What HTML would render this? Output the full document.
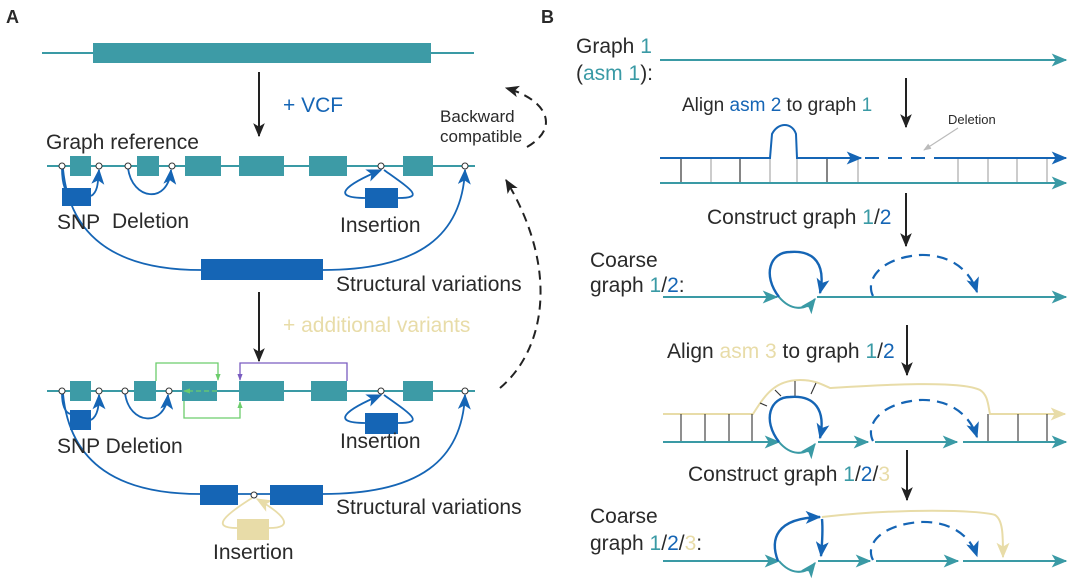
<!DOCTYPE html>
<html><head><meta charset="utf-8"><style>
html,body{margin:0;padding:0;background:#fff;}
svg{display:block;font-family:"Liberation Sans",Arial,sans-serif;}
</style></head><body>
<svg width="1078" height="579" viewBox="0 0 1078 579" xmlns="http://www.w3.org/2000/svg">
<defs>
<marker id="mt" viewBox="0 0 12 10" refX="11" refY="5" markerWidth="17" markerHeight="13" markerUnits="userSpaceOnUse" orient="auto"><path d="M0,0 L12,5 L0,10 L3,5 Z" fill="#3a9aa5"/></marker>
<marker id="mb" viewBox="0 0 12 10" refX="11" refY="5" markerWidth="16" markerHeight="13" markerUnits="userSpaceOnUse" orient="auto"><path d="M0,0 L12,5 L0,10 L3,5 Z" fill="#1565b5"/></marker>
<marker id="my" viewBox="0 0 12 10" refX="11" refY="5" markerWidth="17" markerHeight="13" markerUnits="userSpaceOnUse" orient="auto"><path d="M0,0 L12,5 L0,10 L3,5 Z" fill="#e8dca8"/></marker>
<marker id="mk" viewBox="0 0 12 10" refX="11" refY="5" markerWidth="14" markerHeight="12" markerUnits="userSpaceOnUse" orient="auto"><path d="M0,0 L12,5 L0,10 L3,5 Z" fill="#222"/></marker>
<marker id="mg" viewBox="0 0 8 6" refX="7" refY="3" markerWidth="7" markerHeight="6" markerUnits="userSpaceOnUse" orient="auto"><path d="M0,0 L8,3 L0,6 Z" fill="#6ccd6c"/></marker>
<marker id="mp" viewBox="0 0 8 6" refX="7" refY="3" markerWidth="7" markerHeight="6" markerUnits="userSpaceOnUse" orient="auto"><path d="M0,0 L8,3 L0,6 Z" fill="#7a5cc0"/></marker>
<marker id="ms" viewBox="0 0 8 6" refX="7" refY="3" markerWidth="8" markerHeight="7" markerUnits="userSpaceOnUse" orient="auto"><path d="M0,0 L8,3 L0,6 Z" fill="#bbb"/></marker>
</defs>

<g fill="#2a2a2a">
<text x="6" y="23" font-weight="bold" font-size="18">A</text>
<text x="541" y="23" font-weight="bold" font-size="18">B</text>
</g>

<!-- Panel A top -->
<line x1="42" y1="53" x2="474" y2="53" stroke="#3a9aa5" stroke-width="2"/>
<rect x="93" y="43" width="338" height="20" fill="#3d9ba6"/>
<line x1="259" y1="72" x2="259" y2="136" stroke="#222" stroke-width="2" marker-end="url(#mk)"/>
<text x="283" y="112" font-size="21" fill="#1565b5">+ VCF</text>
<text x="46" y="149" font-size="21" fill="#2a2a2a">Graph reference</text>
<text x="440" y="122" font-size="17" fill="#2a2a2a">Backward</text>
<text x="440" y="142" font-size="17" fill="#2a2a2a">compatible</text>
<path d="M527,147 C560,128 548,100 506,88" fill="none" stroke="#222" stroke-width="2" stroke-dasharray="9,6" marker-end="url(#mk)"/>

<!-- Graph 1 -->
<line x1="47" y1="166" x2="475" y2="166" stroke="#3a9aa5" stroke-width="2"/>
<g fill="#3d9ba6">
<rect x="70" y="156" width="21" height="20"/><rect x="137" y="156" width="22" height="20"/>
<rect x="185" y="156" width="36" height="20"/><rect x="239" y="156" width="45" height="20"/>
<rect x="309" y="156" width="38" height="20"/><rect x="403" y="156" width="30" height="20"/>
</g>
<g fill="none" stroke="#1565b5" stroke-width="1.8">
<path d="M91,196 C98,192 98,182 99,170" marker-end="url(#mb)"/>
<path d="M62,168 C62,185 66,195 72,195"/>
<path d="M128,168 C132,200 168,205 171,170" marker-end="url(#mb)"/>
<path d="M365,198 C330,198 345,185 381,170" marker-end="url(#mb)"/>
<path d="M398,198 C425,198 412,190 384,170"/>
<path d="M63,169 C70,240 120,270 201,270"/>
<path d="M323,270 C420,270 462,235 465,170" marker-end="url(#mb)"/>
</g>
<rect x="62" y="188" width="29" height="18" fill="#1565b5"/>
<rect x="365" y="188" width="33" height="20" fill="#1565b5"/>
<rect x="201" y="259" width="122" height="21" fill="#1565b5"/>
<g fill="#fff" stroke="#333" stroke-width="1">
<circle cx="62" cy="166" r="3"/><circle cx="99" cy="166" r="3"/><circle cx="128" cy="166" r="3"/>
<circle cx="172" cy="166" r="3"/><circle cx="381" cy="166" r="3"/><circle cx="465" cy="166" r="3"/>
</g>
<g font-size="21" fill="#2a2a2a">
<text x="57" y="229">SNP</text><text x="112" y="228">Deletion</text>
<text x="340" y="232">Insertion</text><text x="336" y="291">Structural variations</text>
</g>

<line x1="259" y1="292" x2="259" y2="361" stroke="#222" stroke-width="2" marker-end="url(#mk)"/>
<text x="283" y="332" font-size="21" fill="#e8dca8">+ additional variants</text>

<!-- Graph 2 -->
<line x1="47" y1="391" x2="475" y2="391" stroke="#3a9aa5" stroke-width="2"/>
<g fill="#3d9ba6">
<rect x="70" y="381" width="21" height="20"/><rect x="134" y="381" width="22" height="20"/>
<rect x="182" y="381" width="35" height="20"/><rect x="239" y="381" width="45" height="20"/>
<rect x="311" y="381" width="36" height="20"/><rect x="403" y="381" width="30" height="20"/>
</g>
<g fill="none" stroke-width="1.3">
<path d="M156,381 V363 H218 V380" stroke="#6ccd6c" marker-end="url(#mg)"/>
<path d="M184,401 V418 H240 V402" stroke="#6ccd6c" marker-end="url(#mg)"/>
<path d="M217,391 H184" stroke="#6ccd6c" stroke-dasharray="5,3" marker-end="url(#mg)"/>
<path d="M347,381 V363 H240 V380" stroke="#7a5cc0" marker-end="url(#mp)"/>
</g>
<g fill="none" stroke="#1565b5" stroke-width="1.8">
<path d="M91,420 C98,416 99,405 99,395" marker-end="url(#mb)"/>
<path d="M62,393 C62,405 65,412 70,414"/>
<path d="M125,393 C129,425 165,428 168,395" marker-end="url(#mb)"/>
<path d="M365,423 C330,423 345,410 381,395" marker-end="url(#mb)"/>
<path d="M398,423 C425,423 412,415 384,395"/>
<path d="M63,394 C70,465 120,494 200,494"/>
<path d="M323,494 C420,494 462,460 465,395" marker-end="url(#mb)"/>
<line x1="238" y1="494" x2="270" y2="494"/>
</g>
<g fill="none" stroke="#e8dca8" stroke-width="1.8">
<path d="M237,528 C210,528 225,515 252,498"/>
<path d="M269,528 C295,528 285,515 257,499" marker-end="url(#my)"/>
</g>
<rect x="70" y="410" width="21" height="20" fill="#1565b5"/>
<rect x="365" y="413" width="33" height="21" fill="#1565b5"/>
<rect x="200" y="485" width="38" height="20" fill="#1565b5"/>
<rect x="270" y="485" width="53" height="20" fill="#1565b5"/>
<rect x="237" y="519" width="32" height="21" fill="#e8dca8"/>
<g fill="#fff" stroke="#333" stroke-width="1">
<circle cx="62" cy="391" r="3"/><circle cx="99" cy="391" r="3"/><circle cx="125" cy="391" r="3"/>
<circle cx="169" cy="391" r="3"/><circle cx="381" cy="391" r="3"/><circle cx="465" cy="391" r="3"/>
<circle cx="254" cy="495" r="3"/>
</g>
<g font-size="21" fill="#2a2a2a">
<text x="57" y="453">SNP Deletion</text>
<text x="340" y="448">Insertion</text><text x="336" y="514">Structural variations</text>
<text x="213" y="559">Insertion</text>
</g>
<path d="M500,388 C545,350 560,270 506,180" fill="none" stroke="#222" stroke-width="2" stroke-dasharray="9,6" marker-end="url(#mk)"/>

<!-- Panel B -->
<g font-size="21" fill="#2a2a2a">
<text x="576" y="53">Graph <tspan fill="#3a9aa5">1</tspan></text>
<text x="576" y="80">(<tspan fill="#3a9aa5">asm 1</tspan>):</text>
<text x="682" y="111" font-size="19">Align <tspan fill="#1565b5">asm 2</tspan> to graph <tspan fill="#3a9aa5">1</tspan></text>
<text x="707" y="224">Construct graph <tspan fill="#3a9aa5">1</tspan>/<tspan fill="#1565b5">2</tspan></text>
<text x="590" y="267">Coarse</text>
<text x="590" y="292">graph <tspan fill="#3a9aa5">1</tspan>/<tspan fill="#1565b5">2</tspan>:</text>
<text x="667" y="358">Align <tspan fill="#e8dca8">asm 3</tspan> to graph <tspan fill="#3a9aa5">1</tspan>/<tspan fill="#1565b5">2</tspan></text>
<text x="688" y="481">Construct  graph <tspan fill="#3a9aa5">1</tspan>/<tspan fill="#1565b5">2</tspan>/<tspan fill="#e8dca8">3</tspan></text>
<text x="590" y="523">Coarse</text>
<text x="590" y="550">graph <tspan fill="#3a9aa5">1</tspan>/<tspan fill="#1565b5">2</tspan>/<tspan fill="#e8dca8">3</tspan>:</text>
</g>
<line x1="660" y1="60" x2="1066" y2="60" stroke="#3a9aa5" stroke-width="2" marker-end="url(#mt)"/>
<g stroke="#222" stroke-width="2">
<line x1="906" y1="78" x2="906" y2="127" marker-end="url(#mk)"/>
<line x1="906" y1="193" x2="906" y2="246" marker-end="url(#mk)"/>
<line x1="907" y1="325" x2="907" y2="375" marker-end="url(#mk)"/>
<line x1="907" y1="450" x2="907" y2="500" marker-end="url(#mk)"/>
</g>

<!-- align 2 -->
<g stroke-width="1.2">
<g stroke="#333"><line x1="681" y1="158" x2="681" y2="183"/><line x1="740" y1="158" x2="740" y2="183"/><line x1="827" y1="158" x2="827" y2="183"/></g>
<g stroke="#aaa"><line x1="711" y1="158" x2="711" y2="183"/><line x1="770" y1="158" x2="770" y2="183"/><line x1="797" y1="158" x2="797" y2="183"/><line x1="858" y1="158" x2="858" y2="183"/><line x1="958" y1="158" x2="958" y2="183"/><line x1="988" y1="158" x2="988" y2="183"/><line x1="1017" y1="158" x2="1017" y2="183"/><line x1="1047" y1="158" x2="1047" y2="183"/></g>
</g>
<path d="M660,158 H770 L772,134 C778,122 792,122 796,134 L797,158 H861" fill="none" stroke="#1565b5" stroke-width="2" marker-end="url(#mb)"/>
<line x1="865" y1="158" x2="945" y2="158" stroke="#1565b5" stroke-width="2" stroke-dasharray="14,9"/>
<line x1="945" y1="158" x2="1066" y2="158" stroke="#1565b5" stroke-width="2" marker-end="url(#mb)"/>
<line x1="660" y1="183" x2="1066" y2="183" stroke="#3a9aa5" stroke-width="2" marker-end="url(#mt)"/>
<text x="948" y="124" font-size="13" fill="#2a2a2a">Deletion</text>
<line x1="958" y1="128" x2="924" y2="150" stroke="#bbb" stroke-width="1.2" marker-end="url(#ms)"/>

<!-- coarse 1/2 -->
<line x1="663" y1="297" x2="777" y2="297" stroke="#3a9aa5" stroke-width="2" marker-end="url(#mt)"/>
<line x1="817" y1="297" x2="1066" y2="297" stroke="#3a9aa5" stroke-width="2" marker-end="url(#mt)"/>
<path d="M779,297 C790,310 805,312 815,299" fill="none" stroke="#3a9aa5" stroke-width="2" marker-end="url(#mt)"/>
<path d="M779,297 C762,275 770,252 790,252 C815,250 826,265 820,293" fill="none" stroke="#1565b5" stroke-width="2.4" marker-end="url(#mb)"/>
<path d="M873,296 C865,280 880,258 920,255 C950,254 970,270 977,292" fill="none" stroke="#1565b5" stroke-width="2.2" stroke-dasharray="11,7" marker-end="url(#mb)"/>

<!-- align 3 -->
<path d="M663,414 H753 C765,395 775,380 800,380 C815,380 823,385 830,388 C880,385 960,380 980,390 C988,395 988,405 990,414 H1065" fill="none" stroke="#e8dca8" stroke-width="2" marker-end="url(#my)"/>
<g stroke="#333" stroke-width="1.1">
<line x1="681" y1="414" x2="681" y2="442"/><line x1="705" y1="414" x2="705" y2="442"/><line x1="729" y1="414" x2="729" y2="442"/><line x1="752" y1="414" x2="752" y2="442"/>
<line x1="988" y1="414" x2="988" y2="442"/><line x1="1018" y1="414" x2="1018" y2="442"/><line x1="1047" y1="414" x2="1047" y2="442"/>
<line x1="760" y1="403" x2="767" y2="406"/><line x1="775" y1="390" x2="781" y2="396"/><line x1="795" y1="381" x2="795" y2="396"/><line x1="816" y1="383" x2="811" y2="394"/>
</g>
<line x1="663" y1="442" x2="779" y2="442" stroke="#3a9aa5" stroke-width="2" marker-end="url(#mt)"/>
<line x1="818" y1="442" x2="868" y2="442" stroke="#3a9aa5" stroke-width="2" marker-end="url(#mt)"/>
<line x1="875" y1="442" x2="957" y2="442" stroke="#3a9aa5" stroke-width="2" marker-end="url(#mt)"/>
<line x1="963" y1="442" x2="1066" y2="442" stroke="#3a9aa5" stroke-width="2" marker-end="url(#mt)"/>
<path d="M779,442 C790,455 805,457 815,444" fill="none" stroke="#3a9aa5" stroke-width="2" marker-end="url(#mt)"/>
<path d="M779,442 C762,420 770,397 790,397 C815,395 826,410 820,438" fill="none" stroke="#1565b5" stroke-width="2.4" marker-end="url(#mb)"/>
<path d="M873,441 C865,425 880,403 920,400 C950,399 970,415 977,437" fill="none" stroke="#1565b5" stroke-width="2.2" stroke-dasharray="11,7" marker-end="url(#mb)"/>

<!-- coarse 1/2/3 -->
<line x1="663" y1="561" x2="779" y2="561" stroke="#3a9aa5" stroke-width="2" marker-end="url(#mt)"/>
<line x1="818" y1="561" x2="870" y2="561" stroke="#3a9aa5" stroke-width="2" marker-end="url(#mt)"/>
<line x1="876" y1="561" x2="958" y2="561" stroke="#3a9aa5" stroke-width="2" marker-end="url(#mt)"/>
<line x1="963" y1="561" x2="1066" y2="561" stroke="#3a9aa5" stroke-width="2" marker-end="url(#mt)"/>
<path d="M779,561 C790,574 805,576 815,563" fill="none" stroke="#3a9aa5" stroke-width="2" marker-end="url(#mt)"/>
<path d="M778,561 C770,540 775,518 820,517" fill="none" stroke="#1565b5" stroke-width="2.4" marker-end="url(#mb)"/>
<path d="M822,519 C823,530 822,545 821,556" fill="none" stroke="#1565b5" stroke-width="2.4" marker-end="url(#mb)"/>
<path d="M822,517 C900,508 980,510 995,515 C1003,520 1003,535 1003,557" fill="none" stroke="#e8dca8" stroke-width="2" marker-end="url(#my)"/>
<path d="M873,560 C865,545 880,525 920,522 C950,521 970,535 977,556" fill="none" stroke="#1565b5" stroke-width="2.2" stroke-dasharray="11,7" marker-end="url(#mb)"/>
</svg>
</body></html>
